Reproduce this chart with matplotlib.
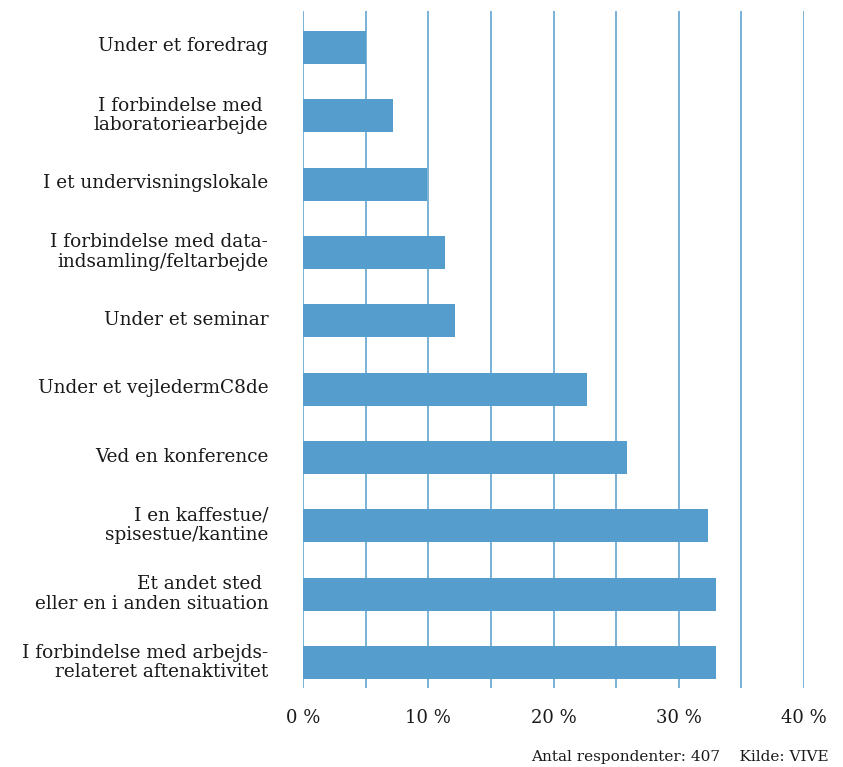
import numpy as np
import matplotlib.pyplot as plt
import matplotlib.transforms as mtransforms

categories = [
    "Under et foredrag",
    "I forbindelse med \nlaboratoriearbejde",
    "I et undervisningslokale",
    "I forbindelse med data-\nindsamling/feltarbejde",
    "Under et seminar",
    "Under et vejledermC8de",
    "Ved en konference",
    "I en kaffestue/\nspisestue/kantine",
    "Et andet sted \neller en i anden situation",
    "I forbindelse med arbejds-\nrelateret aftenaktivitet",
]
values = [5.0, 7.2, 9.9, 11.3, 12.1, 22.7, 25.9, 32.3, 33.0, 33.0]
grid_vals = [0, 5, 10, 15, 20, 25, 30, 35, 40]
tick_vals = [0, 10, 20, 30, 40]
tick_labels = ["0 %", "10 %", "20 %", "30 %", "40 %"]

plt.rcParams["font.family"] = ["DejaVu Serif"]
BLUE = "#559dcc"

fig = plt.figure(figsize=(8.43, 7.67), dpi=100)
ax = fig.add_axes([303 / 843, 79 / 767, 501 / 843, 677 / 767])

y = np.arange(len(categories))
for g in grid_vals:
    ax.axvline(g, color=BLUE, lw=1.1, zorder=1)
ax.barh(y, values, height=0.48, color=BLUE, zorder=2)

ax.set_xlim(0, 40)
ax.set_ylim(len(categories) - 1 + 0.373, -0.534)
ax.set_yticks(y)
ax.set_yticklabels(categories, fontsize=13.3, color="#1a1a1a", ma="right", linespacing=1.1)
ax.set_xticks(tick_vals)
ax.set_xticklabels(tick_labels, fontsize=13, color="#1a1a1a")
ax.tick_params(axis="y", length=0, pad=25)
ax.tick_params(axis="x", length=0, pad=15)
for s in ax.spines.values():
    s.set_visible(False)

# nudge category labels up a little, as in the original
shift = mtransforms.ScaledTranslation(0, 3 / 100, fig.dpi_scale_trans)
for lbl in ax.get_yticklabels():
    lbl.set_transform(lbl.get_transform() + shift)

fig.text(829 / 843, 3 / 767, "Antal respondenter: 407    Kilde: VIVE",
         ha="right", va="bottom", fontsize=11, color="#1a1a1a")

fig.savefig("out.png", dpi=100, facecolor="white")
